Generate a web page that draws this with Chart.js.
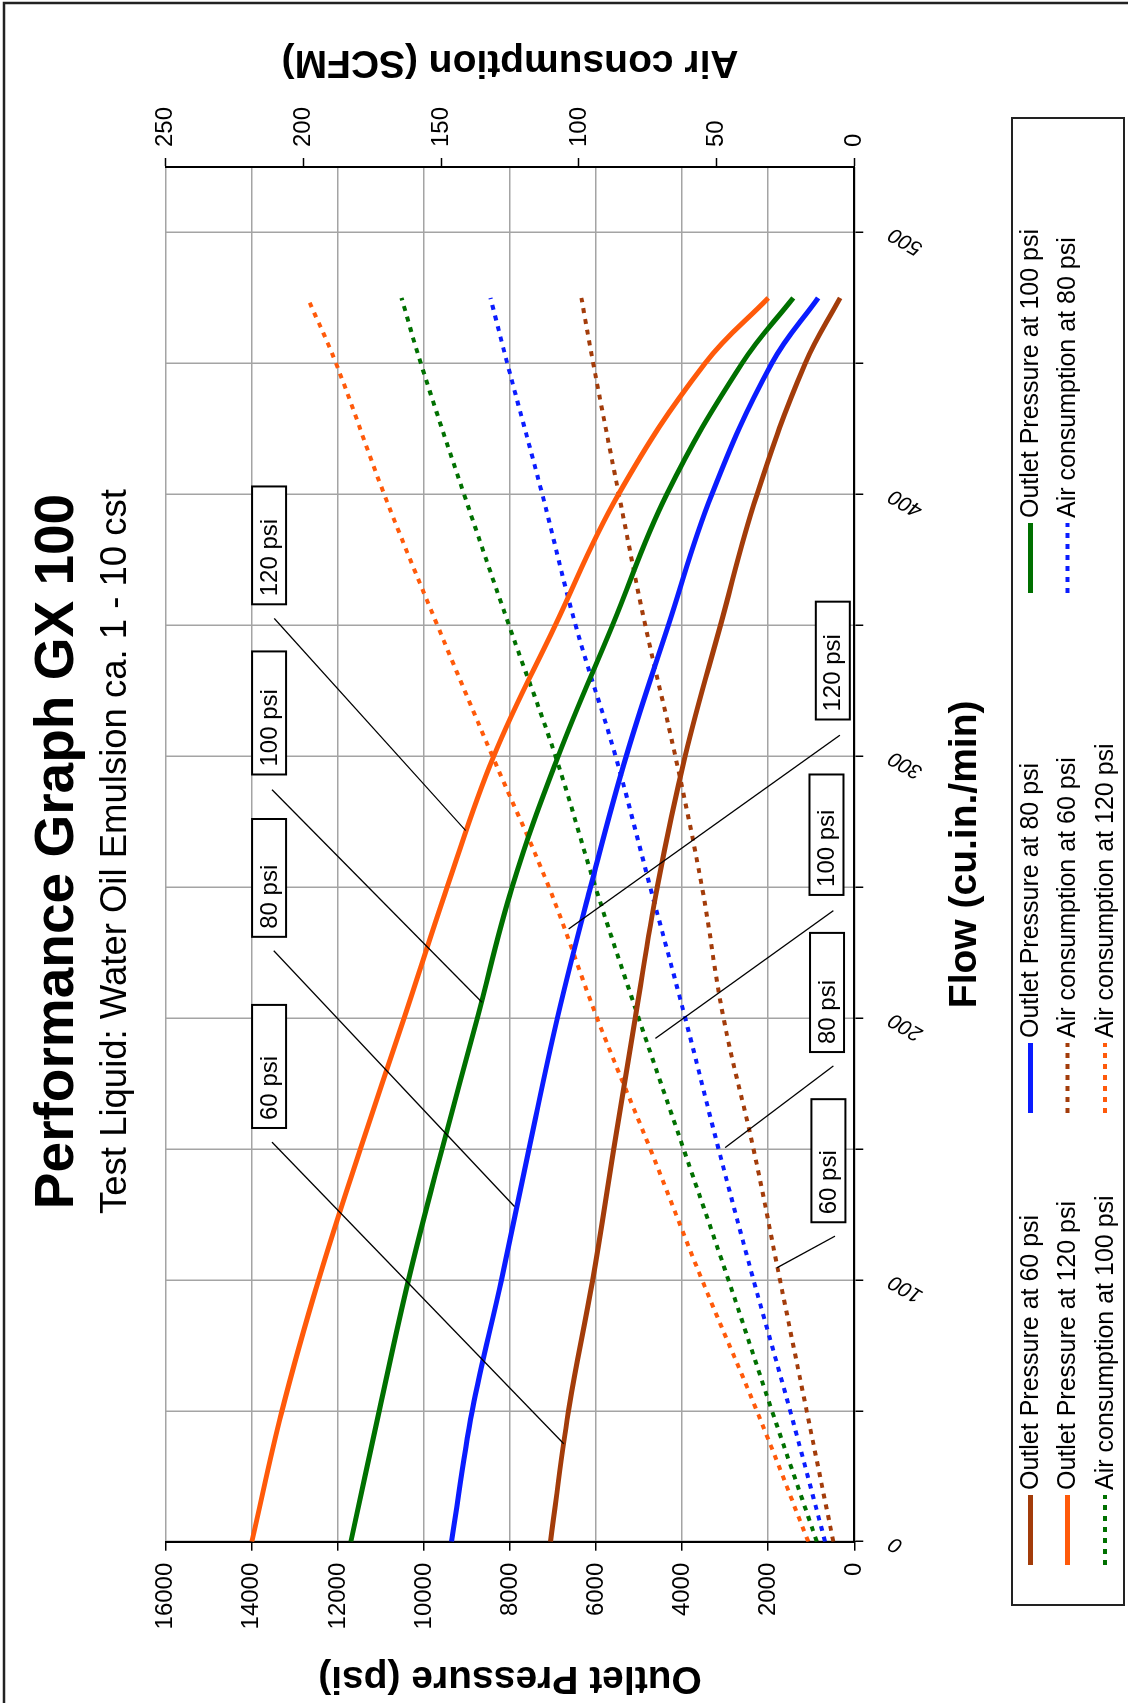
<!DOCTYPE html>
<html>
<head>
<meta charset="utf-8">
<title>Performance Graph GX 100</title>
<script src="https://cdn.jsdelivr.net/npm/chart.js@4.4.1/dist/chart.umd.min.js"></script>
<style>
    html, body { margin: 0; padding: 0; background: #fff; overflow: hidden; }
    #ruotato {
        position: absolute; left: 0; top: 0;
        width: 1703px; height: 1128px;
        transform-origin: 0 0;
        transform: translateY(1703px) rotate(-90deg);
    }
</style>
</head>
<body>
<div id="ruotato"><canvas id="grafico" width="1703" height="1128"></canvas></div>
<script>
// portata (cu.in./min)
var portata = [0, 50, 100, 150, 200, 250, 300, 350, 400, 450, 475];

// pressione in uscita (psi)
var pressione60 = [7060, 6640, 6080, 5590, 5090, 4580, 3930, 3110, 2260, 1140, 330];
var pressione80 = [9360, 8880, 8200, 7560, 6900, 6130, 5300, 4320, 3310, 1920, 840];
var pressione100 = [11700, 11040, 10360, 9580, 8760, 7950, 6880, 5620, 4360, 2610, 1420];
var pressione120 = [14000, 13300, 12450, 11480, 10460, 9460, 8380, 6950, 5480, 3470, 2000];

// consumo aria (SCFM)
var aria60 = [7.6, 17.3, 27.0, 36.6, 47.5, 55.3, 65.0, 75.9, 85.5, 94.8, 99.1];
var aria80 = [10.6, 23.3, 36.6, 49.3, 61.4, 74.1, 86.7, 101.2, 113.3, 126.0, 132.1];
var aria100 = [13.6, 29.9, 45.7, 62.0, 78.3, 94.0, 108.5, 125.4, 141.7, 157.4, 164.4];
var aria120 = [16.7, 35.4, 55.3, 74.1, 93.4, 110.9, 131.4, 151.4, 170.7, 188.2, 198.5];

var nomiSerie = [
    'Outlet Pressure at 60 psi', 'Outlet Pressure at 80 psi', 'Outlet Pressure at 100 psi',
    'Outlet Pressure at 120 psi', 'Air consumption at 60 psi', 'Air consumption at 80 psi',
    'Air consumption at 100 psi', 'Air consumption at 120 psi'
];

// tick
var tickPortata = [0, 50, 100, 150, 200, 250, 300, 350, 400, 450, 500];
var etichettePortata = ['0', '', '100', '', '200', '', '300', '', '400', '', '500'];
var tickPressione = [0, 2000, 4000, 6000, 8000, 10000, 12000, 14000, 16000];
var tickAria = [0, 50, 100, 150, 200, 250];

// riquadri e linee di richiamo
var etichetteBox = ['60 psi', '80 psi', '100 psi', '120 psi'];
var boxPressioneDa = [158, 231, 293, 358];
var boxPressioneA = [205, 276, 340, 403];
var boxPressioneVal = [13600, 13600, 13600, 13600];
var richiamoPressione = [
    [152.6, 13530, 37.4, 6754],
    [225.7, 13490, 128.0, 7895],
    [287.2, 13530, 206.0, 8650],
    [352.6, 13480, 271.6, 9032]
];
var boxAriaDa = [122, 187, 247, 314];
var boxAriaA = [169, 232.5, 293, 359];
var boxAriaVal = [9.4, 9.9, 10.1, 7.8];
var richiamoAria = [
    [116.7, 7.0, 104.6, 28.1],
    [181.7, 7.6, 150.5, 46.9],
    [241.0, 7.6, 192.2, 72.2],
    [308.0, 5.2, 234.0, 103.7]
];

var marrone = '#a33c0a';
var blu = '#0a1cff';
var verde = '#007000';
var arancio = '#ff5a0a';

Chart.defaults.font.family = "'Liberation Sans', Arial, sans-serif";
Chart.defaults.color = '#000';

function costruisciPunti(valori){
    var punti = [];
    for (var i = 0; i < valori.length; i++) {
        punti.push({x: portata[i], y: valori[i]});
    }
    return punti;
}

function serie(nome, valori, colore, asse, tratteggio){
    return {
        label: nome,
        data: costruisciPunti(valori),
        borderColor: colore,
        backgroundColor: colore,
        borderWidth: tratteggio ? 4 : 5,
        borderDash: tratteggio ? [5, 6] : [],
        pointRadius: 0,
        fill: false,
        tension: 0.4,
        yAxisID: asse
    };
}

function disegnaRichiami(ctx, linee, sx, sy){
    for (var i = 0; i < linee.length; i++) {
        var l = linee[i];
        ctx.beginPath();
        ctx.moveTo(sx.getPixelForValue(l[0]), sy.getPixelForValue(l[1]));
        ctx.lineTo(sx.getPixelForValue(l[2]), sy.getPixelForValue(l[3]));
        ctx.stroke();
    }
}

function disegnaBox(ctx, da, a, val, sx, sy){
    for (var i = 0; i < da.length; i++) {
        var x1 = sx.getPixelForValue(da[i]);
        var x2 = sx.getPixelForValue(a[i]);
        var yc = sy.getPixelForValue(val[i]);
        ctx.fillStyle = '#fff';
        ctx.fillRect(x1, yc - 17, x2 - x1, 34);
        ctx.strokeRect(x1, yc - 17, x2 - x1, 34);
        ctx.fillStyle = '#000';
        ctx.fillText(etichetteBox[i], x1 + 8, yc + 1);
    }
}

var pluginExtra = {
    id: 'extra',
    afterDraw: function(chart){
        var ctx = chart.ctx;
        var sx = chart.scales.x;
        var sy = chart.scales.y;
        var sy2 = chart.scales.y2;
        var area = chart.chartArea;
        ctx.save();

        // linee di richiamo
        ctx.strokeStyle = '#000';
        ctx.lineWidth = 1.3;
        disegnaRichiami(ctx, richiamoPressione, sx, sy);
        disegnaRichiami(ctx, richiamoAria, sx, sy2);

        // riquadri
        ctx.lineWidth = 2;
        ctx.font = "24px 'Liberation Sans', Arial, sans-serif";
        ctx.textAlign = 'left';
        ctx.textBaseline = 'middle';
        disegnaBox(ctx, boxPressioneDa, boxPressioneA, boxPressioneVal, sx, sy);
        disegnaBox(ctx, boxAriaDa, boxAriaA, boxAriaVal, sx, sy2);

        // titolo asse destro
        ctx.save();
        ctx.translate(1641, (area.top + area.bottom) / 2);
        ctx.rotate(-Math.PI / 2);
        ctx.font = "bold 39px 'Liberation Sans', Arial, sans-serif";
        ctx.textAlign = 'center';
        ctx.fillStyle = '#000';
        ctx.fillText('Air consumption (SCFM)', 0, 0);
        ctx.restore();

        // legenda
        var colonne = [138, 590, 1110];
        var righe = [1030.5, 1067.5, 1105];
        ctx.font = "25px 'Liberation Sans', Arial, sans-serif";
        ctx.textAlign = 'left';
        var dati = chart.data.datasets;
        for (var i = 0; i < dati.length; i++) {
            var cx = colonne[i % 3];
            var cy = righe[Math.floor(i / 3)];
            ctx.strokeStyle = dati[i].borderColor;
            ctx.lineWidth = dati[i].borderWidth;
            ctx.setLineDash(dati[i].borderDash);
            ctx.beginPath();
            ctx.moveTo(cx, cy);
            ctx.lineTo(cx + 70, cy);
            ctx.stroke();
            ctx.setLineDash([]);
            ctx.fillStyle = '#000';
            ctx.fillText(dati[i].label, cx + 75, cy + 1);
        }
        ctx.strokeStyle = '#222';
        ctx.lineWidth = 2;
        ctx.strokeRect(98, 1012, 1487, 112);

        // cornice
        ctx.lineWidth = 2.5;
        ctx.beginPath();
        ctx.moveTo(0, 4);
        ctx.lineTo(1700, 4);
        ctx.lineTo(1700, 1128);
        ctx.stroke();

        ctx.restore();
    }
};

var griglia = {color: '#a4a4a4', lineWidth: 1.5, tickLength: 9, tickColor: '#000', tickWidth: 1.5};

function etichettaSemplice(valore){
    return String(valore);
}

var ctx = document.getElementById('grafico');
var chart = new Chart(ctx, {
    type: 'line',
    data: {
        datasets: [
            serie(nomiSerie[0], pressione60, marrone, 'y', false),
            serie(nomiSerie[1], pressione80, blu, 'y', false),
            serie(nomiSerie[2], pressione100, verde, 'y', false),
            serie(nomiSerie[3], pressione120, arancio, 'y', false),
            serie(nomiSerie[4], aria60, marrone, 'y2', true),
            serie(nomiSerie[5], aria80, blu, 'y2', true),
            serie(nomiSerie[6], aria100, verde, 'y2', true),
            serie(nomiSerie[7], aria120, arancio, 'y2', true)
        ]
    },
    options: {
        responsive: false,
        animation: false,
        devicePixelRatio: 1,
        layout: {padding: {left: 0, right: 0, top: 0, bottom: 130}},
        plugins: {
            legend: {display: false},
            tooltip: {enabled: false},
            title: {
                display: true,
                text: 'Performance Graph GX 100',
                color: '#000',
                font: {size: 55, weight: 'bold'},
                padding: {top: 25, bottom: 0}
            },
            subtitle: {
                display: true,
                text: 'Test Liquid: Water Oil Emulsion ca. 1 - 10 cst',
                color: '#000',
                font: {size: 36.5},
                padding: {top: 3, bottom: 28}
            }
        },
        scales: {
            x: {
                type: 'linear',
                min: 0,
                max: 525,
                afterBuildTicks: function(scala){
                    scala.ticks = tickPortata.map(function(v){ return {value: v}; });
                },
                afterFit: function(scala){ scala.height = 143.7; },
                ticks: {
                    autoSkip: false,
                    minRotation: 60,
                    maxRotation: 60,
                    padding: 21,
                    color: '#000',
                    font: {size: 21, style: 'italic'},
                    callback: function(valore, indice){ return etichettePortata[indice]; }
                },
                grid: griglia,
                border: {color: '#000', width: 2},
                title: {
                    display: true,
                    text: 'Flow (cu.in./min)',
                    color: '#000',
                    font: {size: 39, weight: 'bold'},
                    padding: {top: 0, bottom: 9.6}
                }
            },
            y: {
                type: 'linear',
                position: 'left',
                min: 0,
                max: 16000,
                afterBuildTicks: function(scala){
                    scala.ticks = tickPressione.map(function(v){ return {value: v}; });
                },
                afterFit: function(scala){ scala.width = 161.3; },
                ticks: {padding: 12, color: '#000', font: {size: 24}, callback: etichettaSemplice},
                grid: griglia,
                border: {color: '#000', width: 2},
                title: {
                    display: true,
                    text: 'Outlet Pressure (psi)',
                    color: '#000',
                    font: {size: 39, weight: 'bold'},
                    padding: {top: 1.6, bottom: 0}
                }
            },
            y2: {
                type: 'linear',
                position: 'right',
                min: 0,
                max: 250,
                afterBuildTicks: function(scala){
                    scala.ticks = tickAria.map(function(v){ return {value: v}; });
                },
                afterFit: function(scala){ scala.width = 167; },
                ticks: {padding: 11, color: '#000', font: {size: 24}, callback: etichettaSemplice},
                grid: {drawOnChartArea: false, tickLength: 9, tickColor: '#000', tickWidth: 1.5},
                border: {color: '#000', width: 2}
            }
        }
    },
    plugins: [pluginExtra]
});
</script>
</body>
</html>
